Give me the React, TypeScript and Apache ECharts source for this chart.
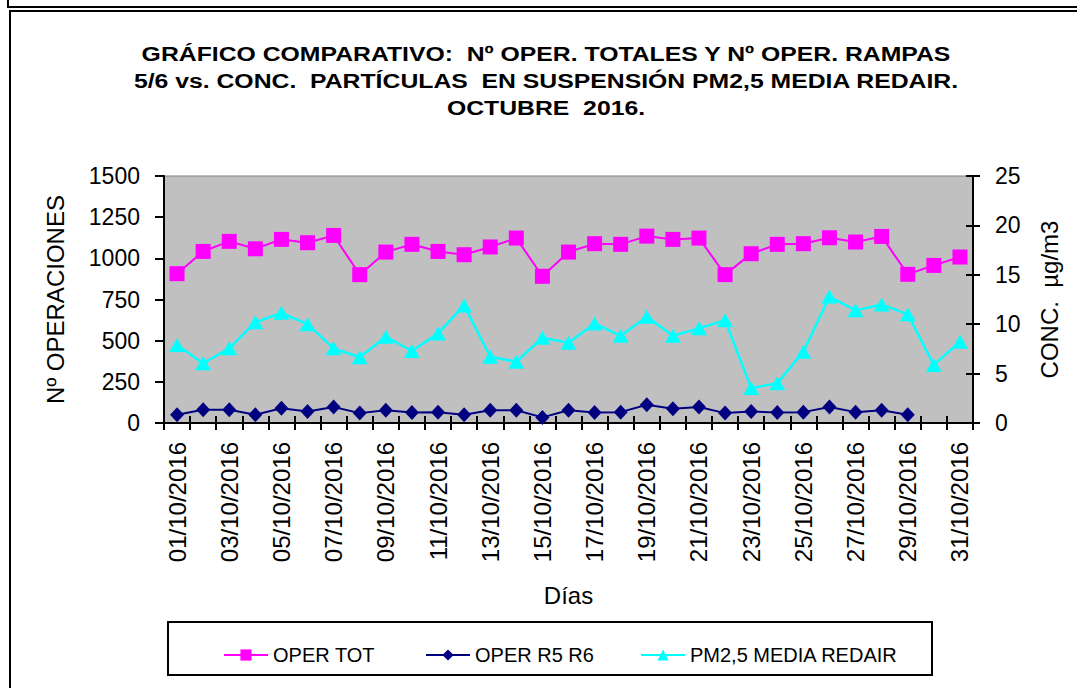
import React, { useEffect, useRef } from "react";
import * as echarts from "echarts";

const days: string[] = [
  "01/10/2016", "02/10/2016", "03/10/2016", "04/10/2016", "05/10/2016", "06/10/2016", "07/10/2016",
  "08/10/2016", "09/10/2016", "10/10/2016", "11/10/2016", "12/10/2016", "13/10/2016", "14/10/2016",
  "15/10/2016", "16/10/2016", "17/10/2016", "18/10/2016", "19/10/2016", "20/10/2016", "21/10/2016",
  "22/10/2016", "23/10/2016", "24/10/2016", "25/10/2016", "26/10/2016", "27/10/2016", "28/10/2016",
  "29/10/2016", "30/10/2016", "31/10/2016",
];

const operTot: number[] = [
  907, 1042, 1103, 1058, 1115, 1095, 1139, 901, 1038, 1085, 1042, 1022, 1069, 1123, 891, 1038,
  1089, 1085, 1135, 1115, 1123, 901, 1028, 1085, 1089, 1125, 1099, 1133, 903, 957, 1008,
];

const operR5R6: (number | null)[] = [
  50, 80, 80, 50, 89, 70, 97, 60, 77, 64, 66, 50, 77, 77, 34, 77,
  64, 66, 111, 87, 97, 60, 70, 64, 66, 97, 66, 77, 50, null, null,
];

const pm25: number[] = [
  7.9, 6.05, 7.56, 10.2, 11.15, 10.0, 7.56, 6.65, 8.73, 7.29, 9.07, 11.9, 6.71, 6.2, 8.63, 8.12,
  10.08, 8.83, 10.75, 8.83, 9.58, 10.4, 3.53, 4.03, 7.22, 12.8, 11.4, 12.0, 11.0, 5.88, 8.23,
];

const seriesNames: string[] = ["OPER TOT", "OPER R5 R6", "PM2,5 MEDIA REDAIR"];
const titleLines: string[] = [
  "GRÁFICO COMPARATIVO:  Nº OPER. TOTALES Y Nº OPER. RAMPAS",
  "5/6 vs. CONC.  PARTÍCULAS  EN SUSPENSIÓN PM2,5 MEDIA REDAIR.",
  "OCTUBRE  2016.",
];

const FONT = "'Liberation Sans', Arial, sans-serif";

export default function App() {
  const ref = useRef<HTMLDivElement>(null);

  useEffect(() => {
    if (!ref.current) return;
    const chart = echarts.init(ref.current, null, { renderer: "svg" });
    const axisLbl = { color: "#000", fontSize: 24, fontFamily: FONT };
    const nameStyle = { fontSize: 24, color: "#000", fontFamily: FONT };
    const option: any = {
      animation: false,
      backgroundColor: "#fff",
      textStyle: { fontFamily: FONT },
      grid: {
        left: 164,
        right: 104,
        top: 176,
        bottom: 265,
        show: true,
        backgroundColor: "#C0C0C0",
        borderColor: "#808080",
        borderWidth: 1,
      },
      graphic: [
        { type: "rect", shape: { x: 8, y: -10, width: 1100, height: 17 }, style: { fill: "none", stroke: "#000", lineWidth: 2 } },
        { type: "rect", shape: { x: 10, y: 11, width: 1100, height: 700 }, style: { fill: "none", stroke: "#000", lineWidth: 2 } },
        { type: "rect", shape: { x: 168, y: 622, width: 764, height: 53 }, style: { fill: "none", stroke: "#000", lineWidth: 2 } },
        {
          type: "text",
          x: 546,
          y: 40,
          scaleX: 1.18,
          style: {
            text: titleLines.join("\n"),
            x: 0,
            y: 0,
            textAlign: "center",
            textVerticalAlign: "top",
            fontSize: 21,
            fontWeight: "bold",
            fontFamily: FONT,
            lineHeight: 27,
            fill: "#000",
          },
        },
      ],
      legend: [
        { data: [seriesNames[0]], left: 218, top: 640 },
        { data: [seriesNames[1]], left: 420, top: 640 },
        { data: [seriesNames[2]], left: 635, top: 640 },
      ].map((l) => ({
        ...l,
        itemWidth: 44,
        itemHeight: 14,
        itemGap: 6,
        textStyle: { fontSize: 20, color: "#000", fontFamily: FONT },
      })),
      xAxis: [
        {
          type: "category",
          data: days,
          boundaryGap: true,
          position: "bottom",
          axisLine: { lineStyle: { color: "#000", width: 2 } },
          axisTick: { show: true, interval: 0, length: 7, inside: false, lineStyle: { color: "#000", width: 2 } },
          axisLabel: { ...axisLbl, rotate: 90, interval: 1, margin: 19 },
          name: "Días",
          nameLocation: "middle",
          nameGap: 160,
          nameTextStyle: nameStyle,
          splitLine: { show: false },
        },
        {
          type: "category",
          data: days,
          boundaryGap: true,
          position: "bottom",
          axisLine: { show: false },
          axisTick: { show: true, interval: 0, length: 7, inside: true, lineStyle: { color: "#000", width: 2 } },
          axisLabel: { show: false },
          splitLine: { show: false },
        },
      ],
      yAxis: [
        {
          type: "value",
          position: "left",
          min: 0,
          max: 1500,
          interval: 250,
          axisLine: { show: true, lineStyle: { color: "#000", width: 2 } },
          axisTick: { show: true, length: 9, lineStyle: { color: "#000", width: 2 } },
          axisLabel: { ...axisLbl, fontSize: 23, margin: 24, formatter: (v: number) => String(v) },
          splitLine: { show: false },
          name: "Nº OPERACIONES",
          nameLocation: "middle",
          nameRotate: 90,
          nameGap: 97,
          nameTextStyle: nameStyle,
        },
        {
          type: "value",
          position: "right",
          min: 0,
          max: 25,
          interval: 5,
          axisLine: { show: true, lineStyle: { color: "#000", width: 2 } },
          axisTick: { show: true, length: 7, lineStyle: { color: "#000", width: 2 } },
          axisLabel: { ...axisLbl, fontSize: 23, margin: 22, formatter: (v: number) => String(v) },
          splitLine: { show: false },
          name: "CONC.  µg/m3",
          nameLocation: "middle",
          nameRotate: 90,
          nameGap: 64,
          nameTextStyle: nameStyle,
        },
        {
          type: "value",
          position: "right",
          min: 0,
          max: 25,
          interval: 5,
          axisLine: { show: false },
          axisTick: { show: true, inside: true, length: 7, lineStyle: { color: "#000", width: 2 } },
          axisLabel: { show: false },
          splitLine: { show: false },
        },
      ],
      series: [
        {
          name: seriesNames[0],
          type: "line",
          data: operTot,
          yAxisIndex: 0,
          symbol: "rect",
          symbolSize: 15,
          itemStyle: { color: "#FF00FF" },
          lineStyle: { color: "#FF00FF", width: 2 },
          z: 3,
        },
        {
          name: seriesNames[1],
          type: "line",
          data: operR5R6,
          yAxisIndex: 0,
          symbol: "diamond",
          symbolSize: [14, 15],
          itemStyle: { color: "#000080" },
          lineStyle: { color: "#000080", width: 2 },
          z: 3,
        },
        {
          name: seriesNames[2],
          type: "line",
          data: pm25,
          yAxisIndex: 1,
          symbol: "triangle",
          symbolSize: [16, 14],
          itemStyle: { color: "#00FFFF" },
          lineStyle: { color: "#00FFFF", width: 2.5 },
          z: 3,
        },
      ],
    };
    chart.setOption(option);
    return () => chart.dispose();
  }, []);

  return (
    <div
      ref={ref}
      style={{ position: "absolute", left: 0, top: 0, width: 1077, height: 688 }}
    />
  );
}
